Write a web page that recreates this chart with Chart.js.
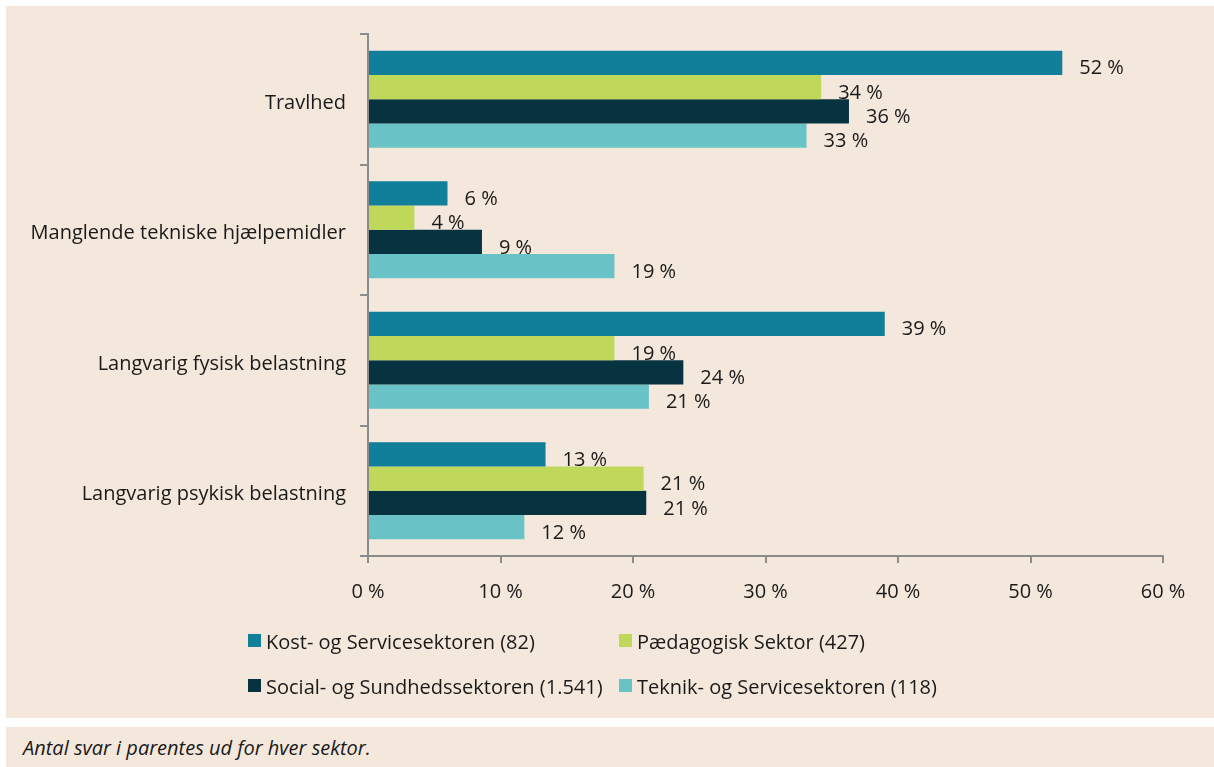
<!DOCTYPE html>
<html>
<head>
<meta charset="utf-8">
<script src="https://cdn.jsdelivr.net/npm/chart.js@4/dist/chart.umd.min.js"></script>
<style>
  html, body { margin: 0; padding: 0; background: #ffffff; width: 1214px; height: 767px; overflow: hidden; }
  #panel { position: absolute; left: 6px; top: 6px; width: 1208px; height: 712px; background: #f4e8dc; }
  #chart { position: absolute; left: 0; top: 0; }
  #legend { position: absolute; left: 0; top: 0; width: 1208px; height: 712px; pointer-events: none;
            font-family: "Open Sans", sans-serif; font-size: 20px; color: #1a1a1a; }
  .item { position: absolute; white-space: nowrap; line-height: 24px; }
  .sw { position: absolute; width: 13px; height: 13px; }
  #note { position: absolute; left: 6px; top: 727px; width: 1208px; height: 40px; background: #f4e8dc;
          font-family: "Open Sans", sans-serif; font-style: italic; font-size: 20px; color: #1a1a1a; }
  #note span { position: absolute; left: 17px; top: 7px; }
</style>
</head>
<body>
<div id="panel">
  <canvas id="chart" width="1208" height="712"></canvas>
  <div id="legend"></div>
</div>
<div id="note"><span>Antal svar i parentes ud for hver sektor.</span></div>
<script>
const categories = ['Travlhed', 'Manglende tekniske hjælpemidler', 'Langvarig fysisk belastning', 'Langvarig psykisk belastning'];
const seriesNames = ['Kost- og Servicesektoren (82)', 'Pædagogisk Sektor (427)', 'Social- og Sundhedssektoren (1.541)', 'Teknik- og Servicesektoren (118)'];
const kost = [52.4, 6.0, 39.0, 13.4];
const paedagogisk = [34.2, 3.5, 18.6, 20.8];
const social = [36.3, 8.6, 23.8, 21.0];
const teknik = [33.1, 18.6, 21.2, 11.8];
const xTickValues = [0, 10, 20, 30, 40, 50, 60];

const seriesValues = [kost, paedagogisk, social, teknik];
const colors = ['#117e9a', '#bfd85a', '#073341', '#69c2c5'];
const FONT = '"Open Sans", sans-serif';
const TEXT = '#1a1a1a';
const AXIS = '#8c8c8c';

const valueLabels = {
  id: 'valueLabels',
  afterDatasetsDraw(chart) {
    const ctx = chart.ctx;
    ctx.save();
    ctx.font = '20px ' + FONT;
    ctx.fillStyle = TEXT;
    ctx.textAlign = 'left';
    ctx.textBaseline = 'middle';
    chart.data.datasets.forEach((ds, di) => {
      const meta = chart.getDatasetMeta(di);
      meta.data.forEach((el, i) => {
        ctx.fillText(Math.round(ds.data[i]) + ' %', el.x + 17, el.y + 6);
      });
    });
    ctx.restore();
  }
};

new Chart(document.getElementById('chart'), {
  type: 'bar',
  data: {
    labels: categories,
    datasets: seriesNames.map((name, i) => ({
      label: name,
      data: seriesValues[i],
      backgroundColor: colors[i],
      borderWidth: 0,
      categoryPercentage: 0.745,
      barPercentage: 1.0
    }))
  },
  options: {
    indexAxis: 'y',
    responsive: false,
    animation: false,
    devicePixelRatio: 1,
    layout: { padding: { top: 28, right: 51, left: 0, bottom: 0 } },
    plugins: {
      legend: { display: false },
      tooltip: { enabled: false }
    },
    scales: {
      x: {
        min: 0, max: 60,
        afterBuildTicks(scale) { scale.ticks = xTickValues.map(v => ({ value: v })); },
        ticks: {
          callback: v => v + ' %',
          font: { family: FONT, size: 20 },
          color: TEXT,
          padding: 17,
          maxRotation: 0
        },
        grid: { drawOnChartArea: false, color: AXIS, lineWidth: 2, tickLength: 7 },
        border: { color: AXIS, width: 2 },
        afterFit(scale) { scale.height = 162; }
      },
      y: {
        ticks: {
          font: { family: FONT, size: 20 },
          color: TEXT,
          padding: 14,
          labelOffset: 4
        },
        grid: { drawOnChartArea: false, offset: true, color: AXIS, lineWidth: 2, tickLength: 8 },
        border: { color: AXIS, width: 2 },
        afterFit(scale) { scale.width = 362; }
      }
    }
  },
  plugins: [valueLabels]
});

// legend built from series names
const legendPos = [
  { sx: 242, sy: 628, tx: 260 },
  { sx: 613, sy: 628, tx: 631 },
  { sx: 242, sy: 673, tx: 260 },
  { sx: 613, sy: 673, tx: 631 }
];
const legend = document.getElementById('legend');
seriesNames.forEach((name, i) => {
  const p = legendPos[i];
  const sw = document.createElement('div');
  sw.className = 'sw';
  sw.style.left = p.sx + 'px';
  sw.style.top = p.sy + 'px';
  sw.style.background = colors[i];
  legend.appendChild(sw);
  const t = document.createElement('div');
  t.className = 'item';
  t.style.left = p.tx + 'px';
  t.style.top = (p.sy - 4) + 'px';
  t.textContent = name;
  legend.appendChild(t);
});
</script>
</body>
</html>
